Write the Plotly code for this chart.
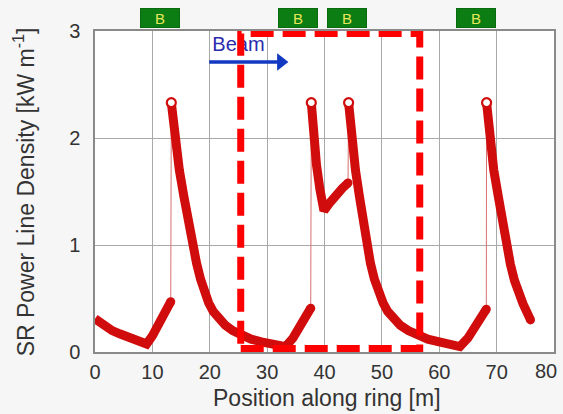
import plotly.graph_objects as go

# ---- data ----
# segment A: start of ring + rise before first magnet edge
seg_a_x = [0.0, 1.0, 2.0, 3.0, 4.3, 5.5, 7.0, 9.0, 10.0, 11.0, 12.0, 13.2]
seg_a_y = [0.31, 0.27, 0.23, 0.20, 0.17, 0.14, 0.11, 0.075, 0.15, 0.25, 0.36, 0.47]
# segment B: first decay + rise
seg_b_x = [13.3, 13.9, 14.7, 15.5, 16.3, 17.0, 17.7, 18.4, 19.1, 19.8, 20.6, 21.5, 22.7,
           24.0, 25.5, 27.2, 29.0, 31.0, 33.2, 34.5, 35.5, 36.6, 37.6]
seg_b_y = [2.33, 2.0, 1.7, 1.45, 1.2, 1.0, 0.83, 0.68, 0.56, 0.46, 0.38, 0.31, 0.25,
           0.20, 0.16, 0.12, 0.095, 0.07, 0.05, 0.13, 0.22, 0.32, 0.41]
# segment C: short decay between two magnets + rise
seg_c_x = [37.7, 38.1, 38.6, 39.2, 39.9, 41.0, 42.0, 43.1, 44.1]
seg_c_y = [2.33, 2.0, 1.75, 1.52, 1.32, 1.40, 1.47, 1.53, 1.58]
# segment D: long decay + rise
seg_d_x = [44.2, 44.7, 45.4, 46.1, 46.8, 47.4, 48.0, 48.7, 49.4, 50.2, 51.0, 52.0, 53.2,
           54.6, 56.2, 58.0, 60.0, 62.0, 63.6, 65.0, 66.2, 67.2, 68.2]
seg_d_y = [2.33, 2.0, 1.7, 1.45, 1.2, 1.0, 0.83, 0.68, 0.56, 0.46, 0.38, 0.31, 0.25,
           0.20, 0.16, 0.12, 0.095, 0.07, 0.05, 0.13, 0.22, 0.31, 0.40]
# segment E: last decay
seg_e_x = [68.25, 68.7, 69.5, 70.3, 71.0, 71.6, 72.4, 73.1, 73.8, 74.6, 75.3, 75.9]
seg_e_y = [2.33, 2.0, 1.7, 1.45, 1.2, 1.0, 0.82, 0.67, 0.55, 0.45, 0.37, 0.30]

magnet_centers = [11.3, 35.4, 43.9, 66.4]
magnet_label = "B"
x_ticks = [0, 10, 20, 30, 40, 50, 60, 70, 80]
x_tick_labels = ["0", "10", "20", "30", "40", "50", "60", "70", "80"]
y_ticks = [0, 1, 2, 3]

RED = "#d00c0c"
FONT = "Liberation Sans, Arial, sans-serif"

segments = [(seg_a_x, seg_a_y), (seg_b_x, seg_b_y), (seg_c_x, seg_c_y),
            (seg_d_x, seg_d_y), (seg_e_x, seg_e_y)]

fig = go.Figure()

# thin vertical connectors at magnet edges
for (xa, ya), (xb, yb) in zip(segments[:-1], segments[1:]):
    fig.add_trace(go.Scatter(x=[xa[-1], xb[0]], y=[ya[-1], yb[0]], mode="lines",
                             line=dict(color="#d87070", width=1), hoverinfo="skip",
                             showlegend=False))

# thick curve segments
for xs, ys in segments:
    fig.add_trace(go.Scatter(x=xs, y=ys, mode="lines",
                             line=dict(color=RED, width=9),
                             showlegend=False))

# rounded segment ends
end_x = [s[0][-1] for s in segments]
end_y = [s[1][-1] for s in segments]
fig.add_trace(go.Scatter(x=end_x, y=end_y, mode="markers",
                         marker=dict(symbol="circle", size=9, color=RED),
                         showlegend=False))

# open circles at peaks
peak_x = [s[0][0] for s in segments[1:]]
peak_y = [s[1][0] for s in segments[1:]]
fig.add_trace(go.Scatter(x=peak_x, y=peak_y, mode="markers",
                         marker=dict(symbol="circle", size=9, color="white",
                                     line=dict(color=RED, width=2.2)),
                         showlegend=False))

# "Beam" label (as trace so dashed box overlays it)
fig.add_trace(go.Scatter(x=[25.0], y=[2.86], mode="text", text=["Beam"],
                         textfont=dict(family=FONT, size=20, color="#2b2bb0"),
                         showlegend=False, cliponaxis=False))

# beam arrow: shaft + head
fig.add_trace(go.Scatter(x=[19.9, 32.0], y=[2.71, 2.71], mode="lines",
                         line=dict(color="#1038c0", width=3.5), showlegend=False))
fig.add_trace(go.Scatter(x=[32.4], y=[2.71], mode="markers",
                         marker=dict(symbol="triangle-right", size=15, color="#1038c0"),
                         showlegend=False))

shapes = []
annotations = []
for c in magnet_centers:
    annotations.append(dict(x=c, y=1.042, xref="x", yref="paper", text=magnet_label,
                            showarrow=False, xanchor="center", yanchor="middle",
                            width=36, height=16, borderpad=1, borderwidth=1,
                            bgcolor="#0b7d12", bordercolor="#0a6a10",
                            font=dict(family=FONT, size=15, color="#e6e65a")))

# dashed highlight rectangle
shapes.append(dict(type="rect", xref="x", yref="y", x0=25.4, x1=56.6, y0=0.033, y1=2.976,
                   line=dict(color="#ff0000", width=7, dash="23px,9px"), layer="above"))

# last x tick label, nudged left so it stays on the canvas
annotations.append(dict(x=x_ticks[-1], y=0, xref="x", yref="paper", text=x_tick_labels[-1],
                        showarrow=False, xanchor="right", yanchor="top", xshift=5, yshift=-6,
                        font=dict(family=FONT, size=20, color="#333333")))

# axis titles
annotations.append(dict(x=0.505, y=-0.143, xref="paper", yref="paper",
                        text="Position along ring [m]", showarrow=False,
                        xanchor="center", yanchor="middle",
                        font=dict(family=FONT, size=23, color="#333333")))
annotations.append(dict(x=-0.155, y=0.5, xref="paper", yref="paper",
                        text="SR Power Line Density [kW m<sup>-1</sup>]", showarrow=False,
                        textangle=-90, xanchor="center", yanchor="middle",
                        font=dict(family=FONT, size=23, color="#333333")))

axis_common = dict(showgrid=True, gridcolor="#a8a8a8", gridwidth=1, zeroline=False,
                   showline=True, linecolor="#8a8a8a", linewidth=1.5, mirror=True,
                   ticks="outside", tickcolor="rgba(0,0,0,0)",
                   tickfont=dict(family=FONT, size=20, color="#333333"))

fig.update_layout(
    width=563, height=414,
    margin=dict(l=95, r=7, t=31, b=62),
    paper_bgcolor="#f6f6f6", plot_bgcolor="white",
    xaxis=dict(range=[0, 80], tickvals=x_ticks[:-1], ticktext=x_tick_labels[:-1],
               ticklen=1, **axis_common),
    yaxis=dict(range=[0, 3], tickvals=y_ticks, ticklen=9, **axis_common),
    shapes=shapes, annotations=annotations,
    showlegend=False,
)

fig.write_html("out.html")
